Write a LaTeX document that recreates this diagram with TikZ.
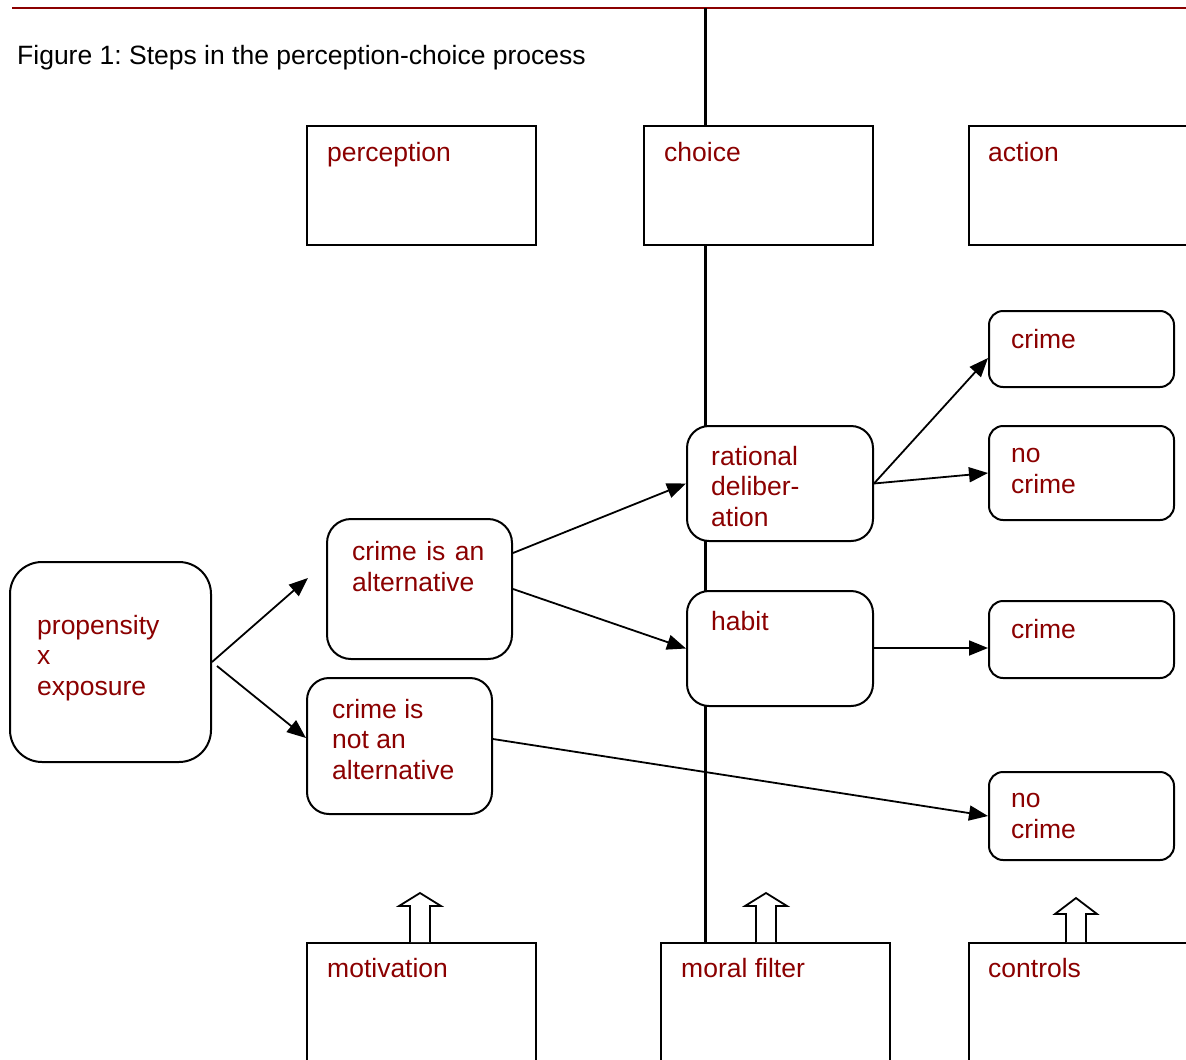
\documentclass[tikz,border=0pt]{standalone}
\usepackage{fontspec}
\setmainfont{Liberation Sans}
\frenchspacing
\usetikzlibrary{arrows.meta}
\definecolor{darkred}{HTML}{8B0000}
\newcommand{\boxfont}{\fontsize{26.5pt}{30.5pt}\selectfont}
\tikzset{
  box/.style={draw, line width=2pt, fill=white, anchor=north west, inner sep=0pt},
  rbox/.style={box, rounded corners=#1},
  lab/.style={text=darkred, font=\boxfont, align=left, anchor=base west, inner sep=0pt},
  link/.style={->, line width=1.8pt}
}

\begin{document}
\begin{tikzpicture}[x=1pt, y=-1pt, >={Triangle[length=19pt,width=15pt]}]
  \useasboundingbox (0,0) rectangle (1186,1060);
  % header line and caption
  \draw[darkred, line width=1.4pt] (12,8) -- (1186,8);
  \node[font=\boxfont, anchor=base west, inner sep=0pt] (title) at (17,64) {Figure 1: Steps in the perception-choice process};

  % divider between perception and choice
  \coordinate (vtop) at (705,8);
  \coordinate (vbot) at (705,942);
  \draw[line width=3pt] (vtop) -- (vbot);

  % stage boxes
  \node[box, minimum width=229pt, minimum height=119pt, label={[lab, xshift=21pt, yshift=-36pt]north west:perception}] (perc) at (306,125) {};
  \node[box, minimum width=229pt, minimum height=119pt, label={[lab, xshift=21pt, yshift=-36pt]north west:choice}] (choi) at (643,125) {};
  \node[box, minimum width=229pt, minimum height=119pt, label={[lab, xshift=20pt, yshift=-36pt]north west:action}] (actn) at (968,125) {};
  \node[box, minimum width=229pt, minimum height=140pt, label={[lab, xshift=21pt, yshift=-35pt]north west:motivation}] (motiv) at (306,942) {};
  \node[box, minimum width=229pt, minimum height=140pt, label={[lab, xshift=21pt, yshift=-35pt]north west:moral filter}] (moral) at (660,942) {};
  \node[box, minimum width=229pt, minimum height=140pt, label={[lab, xshift=20pt, yshift=-35pt]north west:controls}] (ctrl) at (968,942) {};

  % process boxes (base of a label = its last line)
  \node[rbox=32pt, minimum width=201pt, minimum height=200pt, label={[lab, xshift=28pt, yshift=-134pt]north west:{propensity\\x\\exposure}}] (prop) at (9,561) {};
  \node[rbox=24pt, minimum width=185pt, minimum height=140pt, label={[lab, xshift=26pt, yshift=-73pt]north west:{crime\ \kern2pt is\ \kern2pt an\\alternative}}] (alt) at (326,518) {};
  \node[rbox=22pt, minimum width=185pt, minimum height=136pt, label={[lab, xshift=26pt, yshift=-102pt]north west:{crime is\\not an\\alternative}}] (notalt) at (306,677) {};
  \node[rbox=22pt, minimum width=186pt, minimum height=115pt, label={[lab, xshift=25pt, yshift=-101pt]north west:{rational\\deliber-\\ation}}] (rat) at (686,425) {};
  \node[rbox=22pt, minimum width=186pt, minimum height=115pt, label={[lab, xshift=25pt, yshift=-40pt]north west:habit}] (hab) at (686,590) {};
  \node[rbox=14pt, minimum width=185pt, minimum height=76pt, label={[lab, xshift=23pt, yshift=-38pt]north west:crime}] (cr1) at (988,310) {};
  \node[rbox=14pt, minimum width=185pt, minimum height=94pt, label={[lab, xshift=23pt, yshift=-68pt]north west:{no\\crime}}] (nc1) at (988,425) {};
  \node[rbox=14pt, minimum width=185pt, minimum height=77pt, label={[lab, xshift=23pt, yshift=-38pt]north west:crime}] (cr2) at (988,600) {};
  \node[rbox=14pt, minimum width=185pt, minimum height=88pt, label={[lab, xshift=23pt, yshift=-67pt]north west:{no\\crime}}] (nc2) at (988,771) {};

  % connectors
  \coordinate (altin) at (308,578);
  \coordinate (propout) at (217,666);
  \draw[link] (prop.east) -- (altin);
  \draw[link] (propout) -- ([yshift=8pt]notalt.west);
  \draw[link] ([yshift=36pt]alt.east) -- (rat.west);
  \draw[link] (alt.east) -- (hab.west);
  \draw[link] (rat.east) -- ([yshift=-9pt]cr1.west);
  \draw[link] (rat.east) -- (nc1.west);
  \draw[link] ([yshift=0.5pt]hab.east) -- ([yshift=0.5pt]hab.east -| cr2.west);
  \draw[link] ([yshift=7pt]notalt.east) -- (nc2.west);

  % hollow arrows into the boxes below
  \foreach \cx/\tip/\hd in {420/893/13, 766/893/13, 1076/898/16}
    \draw[line width=1.8pt, fill=white] (\cx-10,942) -- (\cx-10,\tip+\hd) -- (\cx-21,\tip+\hd) -- (\cx,\tip)
      -- (\cx+21,\tip+\hd) -- (\cx+10,\tip+\hd) -- (\cx+10,942);
\end{tikzpicture}
\end{document}
